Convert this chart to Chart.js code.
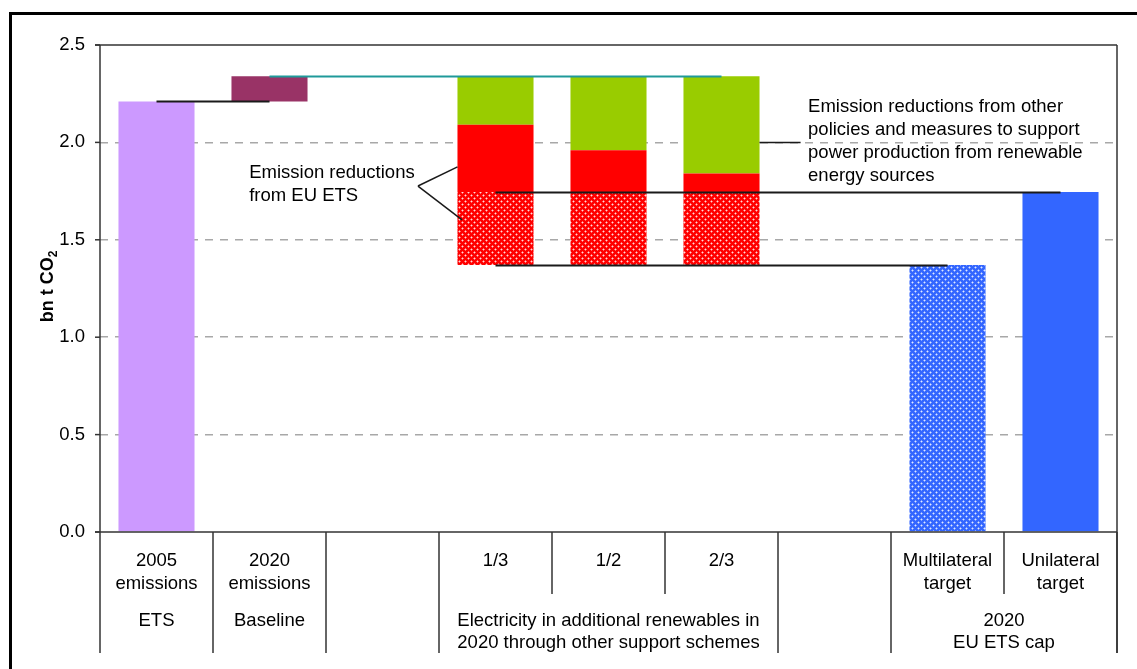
<!DOCTYPE html>
<html>
<head>
<meta charset="utf-8">
<title>EU ETS: 2005 emissions, 2020 baseline and 2020 cap</title>
<script src="https://cdn.jsdelivr.net/npm/chart.js@4.4.1/dist/chart.umd.min.js"></script>
<style>
  html, body { margin: 0; padding: 0; background: #fff; }
  #wrap { width: 1137px; height: 669px; }
</style>
</head>
<body>
<div id="wrap"><canvas id="chart" width="1137" height="669"></canvas></div>
<script>
(function () {
  "use strict";

  // ---- data (bn t CO2) ----
  const categories = ["2005", "2020", "gap-a", "1/3", "1/2", "2/3", "gap-b", "Multilateral", "Unilateral"];
  const topLabels = [["2005", "emissions"], ["2020", "emissions"], [], ["1/3"], ["1/2"], ["2/3"], [], ["Multilateral", "target"], ["Unilateral", "target"]];
  const groupSpans = [[0, 0], [1, 1], [2, 2], [3, 5], [6, 6], [7, 8]];
  const groupLabels = [["ETS"], ["Baseline"], [], ["Electricity in additional renewables in", "2020 through other support schemes"], [], ["2020", "EU ETS cap"]];
  const yTicks = [0, 0.5, 1.0, 1.5, 2.0, 2.5];

  const emissions2005 = 2.21;
  const emissions2020 = 2.34;
  const capMultilateral = 1.37;
  const capUnilateral = 1.745;
  const renewableCols = [3, 4, 5];
  const etsReductionTop = [2.09, 1.96, 1.84]; // top of the red EU ETS block per renewables share

  const etsNote = ["Emission reductions", "from EU ETS"];
  const otherNote = ["Emission reductions from other", "policies and measures to support", "power production from renewable", "energy sources"];

  const FONT = '"Liberation Sans", Arial, sans-serif';
  const C = {
    lilac: "#cc99ff",
    plum: "#993366",
    green: "#99cc00",
    red: "#ff0000",
    blue: "#3366ff",
    teal: "#1f9a9a",
    ink: "#1a1a1a",
    grid: "#a8a8a8",
  };

  // ---- floating bar series built from the values above ----
  function blank() {
    return categories.map(() => null);
  }
  const bar2005 = blank();
  bar2005[0] = [0, emissions2005];
  const barBaseline = blank();
  barBaseline[1] = [emissions2005, emissions2020];
  const barCapGap = blank();
  const barEts = blank();
  const barOther = blank();
  renewableCols.forEach((col, i) => {
    barCapGap[col] = [capMultilateral, capUnilateral];
    barEts[col] = [capUnilateral, etsReductionTop[i]];
    barOther[col] = [etsReductionTop[i], emissions2020];
  });
  const barMulti = blank();
  barMulti[7] = [0, capMultilateral];
  const barUni = blank();
  barUni[8] = [0, capUnilateral];

  const connectors = [
    { from: 0, to: 1, value: emissions2005, color: C.ink },
    { from: 1, to: 5, value: emissions2020, color: C.teal },
    { from: 3, to: 8, value: capUnilateral, color: C.ink },
    { from: 3, to: 7, value: capMultilateral, color: C.ink },
  ];

  // small plus-shaped lattice like the original fill pattern
  function hatch(base) {
    const c = document.createElement("canvas");
    c.width = 6;
    c.height = 6;
    const g = c.getContext("2d");
    g.fillStyle = base;
    g.fillRect(0, 0, 6, 6);
    g.fillStyle = "rgba(255,255,255,0.85)";
    [[0, 0], [3, 3]].forEach(([px, py]) => g.fillRect(px, py, 1, 1));
    g.fillStyle = "rgba(255,255,255,0.4)";
    [[1, 0], [5, 0], [0, 1], [0, 5], [2, 3], [4, 3], [3, 2], [3, 4]].forEach(([px, py]) => g.fillRect(px, py, 1, 1));
    return g.createPattern(c, "repeat");
  }

  function line(ctx, x1, y1, x2, y2, color, width) {
    ctx.beginPath();
    ctx.strokeStyle = color;
    ctx.lineWidth = width;
    ctx.moveTo(x1, y1);
    ctx.lineTo(x2, y2);
    ctx.stroke();
  }

  function textLines(ctx, lines, x, y0, step, align) {
    ctx.textAlign = align;
    lines.forEach((t, i) => ctx.fillText(t, x, y0 + i * step));
  }

  const extras = {
    id: "extras",
    afterDatasetsDraw(chart) {
      const { ctx, scales: { x, y } } = chart;
      ctx.save();
      connectors.forEach((c) => {
        const py = Math.round(y.getPixelForValue(c.value)) + 0.5;
        line(ctx, x.getPixelForValue(c.from), py, x.getPixelForValue(c.to), py, c.color, 2);
      });
      ctx.restore();
    },
    afterDraw(chart) {
      const { ctx, chartArea: a, scales: { x, y } } = chart;
      const half = (x.getPixelForValue(1) - x.getPixelForValue(0)) / 2;
      ctx.save();

      // outer frame (runs off the page)
      ctx.strokeStyle = "#000";
      ctx.lineWidth = 3;
      ctx.strokeRect(10.5, 13.5, 3000, 3000);

      // plot frame + axes
      line(ctx, a.left - 5, a.top, a.right, a.top, "#333", 1.5);
      line(ctx, a.right, a.top, a.right, a.bottom + 121, "#333", 1.5);
      line(ctx, a.left - 5, a.bottom, a.right, a.bottom, "#333", 1.5);
      line(ctx, a.left, a.top, a.left, a.bottom + 121, "#333", 1.5);
      yTicks.forEach((v) => {
        const py = y.getPixelForValue(v);
        line(ctx, a.left - 5, py, a.left, py, "#333", 1.5);
      });

      // category table under the axis
      ctx.fillStyle = "#000";
      ctx.font = "18.5px " + FONT;
      ctx.textBaseline = "alphabetic";
      categories.forEach((_, i) => {
        textLines(ctx, topLabels[i], x.getPixelForValue(i), a.bottom + 34, 22.5, "center");
      });
      groupSpans.forEach(([from, to], g) => {
        const cx = (x.getPixelForValue(from) + x.getPixelForValue(to)) / 2;
        textLines(ctx, groupLabels[g], cx, a.bottom + 94, 22, "center");
        const edge = x.getPixelForValue(to) + half;
        line(ctx, edge, a.bottom, edge, a.bottom + 121, "#333", 1.5);
        for (let i = from; i < to; i++) {
          const inner = x.getPixelForValue(i) + half;
          line(ctx, inner, a.bottom, inner, a.bottom + 62, "#333", 1.5);
        }
      });

      // annotations
      textLines(ctx, etsNote, x.getPixelForValue(0.82), y.getPixelForValue(1.815), 22.5, "left");
      const vx = x.getPixelForValue(2.314);
      const vy = y.getPixelForValue(1.776);
      line(ctx, vx, vy, x.getPixelForValue(2.664), y.getPixelForValue(1.874), C.ink, 1.5);
      line(ctx, vx, vy, x.getPixelForValue(2.704), y.getPixelForValue(1.602), C.ink, 1.5);

      textLines(ctx, otherNote, x.getPixelForValue(5.766), y.getPixelForValue(2.155), 22.8, "left");
      const ly = Math.round(y.getPixelForValue(2.0)) + 0.5;
      line(ctx, x.getPixelForValue(5.336), ly, x.getPixelForValue(5.70), ly, C.ink, 1.5);

      // y-axis title: bn t CO2 (subscript 2)
      ctx.translate(53, (a.top + a.bottom) / 2 - 2);
      ctx.rotate(-Math.PI / 2);
      ctx.font = "bold 18px " + FONT;
      const main = "bn t CO";
      const w1 = ctx.measureText(main).width;
      ctx.font = "bold 12px " + FONT;
      const w2 = ctx.measureText("2").width;
      ctx.textAlign = "left";
      ctx.font = "bold 18px " + FONT;
      ctx.fillText(main, -(w1 + w2) / 2, 0);
      ctx.font = "bold 12px " + FONT;
      ctx.fillText("2", -(w1 + w2) / 2 + w1, 4);

      ctx.restore();
    },
  };

  function ds(data, color) {
    return {
      data,
      backgroundColor: color,
      borderWidth: 0,
      grouped: false,
      barPercentage: 0.673,
      categoryPercentage: 1,
    };
  }

  new Chart(document.getElementById("chart"), {
    type: "bar",
    data: {
      labels: categories,
      datasets: [
        ds(bar2005, C.lilac),
        ds(barBaseline, C.plum),
        ds(barCapGap, hatch(C.red)),
        ds(barEts, C.red),
        ds(barOther, C.green),
        ds(barMulti, hatch(C.blue)),
        ds(barUni, C.blue),
      ],
    },
    options: {
      responsive: false,
      animation: false,
      events: [],
      layout: { padding: { left: 0, right: 20, top: 45, bottom: 137 } },
      plugins: { legend: { display: false }, tooltip: { enabled: false } },
      scales: {
        x: { type: "category", display: false },
        y: {
          min: 0,
          max: 2.5,
          afterFit(scale) {
            scale.width = 100;
          },
          afterBuildTicks(scale) {
            scale.ticks = yTicks.map((v) => ({ value: v }));
          },
          border: { display: false, dash: [8, 7] },
          grid: {
            drawTicks: false,
            lineWidth: 1.5,
            color: (c) => (c.tick && (c.tick.value === 0 || c.tick.value === 2.5) ? "rgba(0,0,0,0)" : C.grid),
          },
          ticks: {
            padding: 15,
            color: "#000",
            font: { family: FONT, size: 18.5 },
            callback: (v) => Number(v).toFixed(1),
          },
        },
      },
    },
    plugins: [extras],
  });
})();
</script>
</body>
</html>
